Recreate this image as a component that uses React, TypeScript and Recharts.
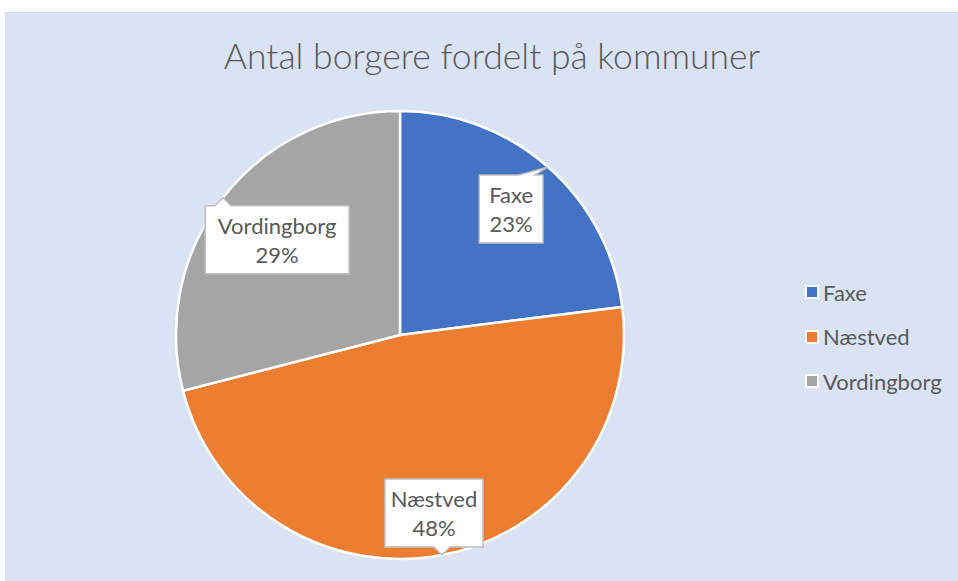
import React from 'react';
import { PieChart, Pie, Cell } from 'recharts';

const kommuner = ['Faxe', 'Næstved', 'Vordingborg'];
const borgere = [23, 48, 29];
const farver = ['#4472C4', '#ED7D31', '#A5A5A5'];

const data = kommuner.map((name, i) => ({ name, value: borgere[i] }));

const FONT = 'Lato, "Open Sans", sans-serif';
const TEXT = '#595959';
const RAD = Math.PI / 180;
const FS = 22;

// rough text width, canvas measuring was unreliable here
const textW = (s: string) => s.length * FS * 0.52;

const Callout = (props: any) => {
  const { cx, cy, midAngle, outerRadius, percent, name } = props;
  const dx = Math.cos(-midAngle * RAD);
  const dy = Math.sin(-midAngle * RAD);
  const tipX = cx + outerRadius * dx;
  const tipY = cy + outerRadius * dy;
  const pct = `${Math.round(percent * 100)}%`;
  const w = Math.max(textW(name), textW(pct)) + 18;
  const h = 68;
  const gap = 8;
  // box sits just inside the tip, along the radius
  const y = dy < 0 ? tipY + gap + h / 2 : tipY - gap - h / 2;
  const t0 = (y - cy) / (outerRadius * dy);
  const x = cx + outerRadius * dx * t0;
  const l = x - w / 2;
  const rt = x + w / 2;
  const t = y - h / 2;
  const b = y + h / 2;
  const bc = Math.min(Math.max(tipX, l + 16), rt - 16);
  const b1 = bc - 8;
  const b2 = bc + 8;
  const d = dy < 0
    ? `M${l},${t} L${b1},${t} L${tipX},${tipY} L${b2},${t} L${rt},${t} L${rt},${b} L${l},${b} Z`
    : `M${l},${t} L${rt},${t} L${rt},${b} L${b2},${b} L${tipX},${tipY} L${b1},${b} L${l},${b} Z`;
  return (
    <g>
      <path d={d} fill="#FFFFFF" stroke="#BFBFBF" strokeWidth={1.5} />
      <text x={x} y={y - 6} textAnchor="middle" fontFamily={FONT} fontSize={FS} fill={TEXT}>
        {name}
      </text>
      <text x={x} y={y + 23} textAnchor="middle" fontFamily={FONT} fontSize={FS} fill={TEXT}>
        {pct}
      </text>
    </g>
  );
};

export default function App() {
  return (
    <div
      style={{
        position: 'absolute',
        left: 5,
        top: 12,
        width: 960,
        height: 580,
        background: '#DAE3F3',
        border: '1px solid #D9D9D9',
        fontFamily: FONT,
      }}
    >
      <div
        style={{
          position: 'absolute',
          left: 0,
          top: 21,
          width: 972,
          textAlign: 'center',
          fontSize: 35.5,
          fontWeight: 300,
          color: TEXT,
        }}
      >
        Antal borgere fordelt på kommuner
      </div>
      <PieChart width={960} height={580} style={{ position: 'absolute', left: 0, top: 0 }}>
        <Pie
          data={data}
          dataKey="value"
          nameKey="name"
          cx={389}
          cy={317}
          outerRadius={224}
          startAngle={90}
          endAngle={-270}
          stroke="#FFFFFF"
          strokeWidth={2.5}
          labelLine={false}
          label={Callout}
          isAnimationActive={false}
        >
          {data.map((d, i) => (
            <Cell key={d.name} fill={farver[i]} />
          ))}
        </Pie>
      </PieChart>
      <div style={{ position: 'absolute', left: 799, top: 257 }}>
        {data.map((d, i) => (
          <div key={d.name} style={{ display: 'flex', alignItems: 'center', height: 44.5 }}>
            <span
              style={{
                width: 10,
                height: 10,
                background: farver[i],
                border: '2px solid #FFFFFF',
                marginRight: 4,
              }}
            />
            <span style={{ fontSize: FS, color: TEXT }}>{d.name}</span>
          </div>
        ))}
      </div>
    </div>
  );
}
